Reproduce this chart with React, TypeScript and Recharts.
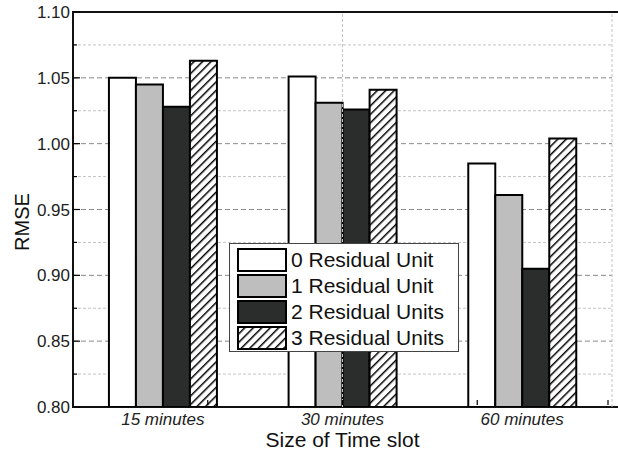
import {
  BarChart,
  Bar,
  XAxis,
  YAxis,
  CartesianGrid,
  ReferenceLine,
  ReferenceArea,
} from 'recharts'

const CATEGORIES = ['15 minutes', '30 minutes', '60 minutes']
const UNIT0 = [1.05, 1.051, 0.985]
const UNIT1 = [1.045, 1.031, 0.961]
const UNIT2 = [1.028, 1.026, 0.905]
const UNIT3 = [1.063, 1.041, 1.004]
const SERIES_NAMES = ['0 Residual Unit', '1 Residual Unit', '2 Residual Units', '3 Residual Units']
const Y_TICKS = [0.8, 0.825, 0.85, 0.875, 0.9, 0.925, 0.95, 0.975, 1.0, 1.025, 1.05, 1.075, 1.1]
const MAJOR_GRID = [0.85, 0.9, 0.95, 1.0, 1.05]
const MINOR_GRID = [0.825, 0.875, 0.925, 0.975, 1.025, 1.075]
const SLOT_BOUNDS = [1, 2]
const X_TICKS = [0.5, 1, 1.5, 2, 2.5]

const data = CATEGORIES.map((c, i) => ({
  name: c,
  u0: UNIT0[i],
  u1: UNIT1[i],
  u2: UNIT2[i],
  u3: UNIT3[i],
}))

const FONT = '"Liberation Sans", Arial, sans-serif'
const FILLS = ['#ffffff', '#bebebe', '#2b2d2c', 'url(#hatch)']

const Hatch = ({ id }: { id: string }) => (
  <pattern id={id} patternUnits="userSpaceOnUse" width="6" height="6" patternTransform="rotate(45)">
    <rect width="6" height="6" fill="#fff" />
    <line x1="0" y1="0" x2="0" y2="6" stroke="#000" strokeWidth="3" />
  </pattern>
)

const LeftTick = (props: any) => {
  const { x, y, payload, index } = props
  const major = index % 2 === 0
  return (
    <g>
      <line x1={x} y1={y} x2={x + (major ? 7 : 4)} y2={y} stroke="#000" strokeWidth={1.2} />
      {major && (
        <text x={x - 3} y={y} dy={6} textAnchor="end" fontSize={17} fill="#222" fontFamily={FONT}>
          {Number(payload.value).toFixed(2)}
        </text>
      )}
    </g>
  )
}

const RightTick = (props: any) => {
  const { x, y, index } = props
  const major = index % 2 === 0
  return <line x1={x} y1={y} x2={x - (major ? 7 : 4)} y2={y} stroke="#000" strokeWidth={1.2} />
}

const BottomTick = (props: any) => {
  const { x, y } = props
  return <line x1={x} y1={y} x2={x} y2={y - 5} stroke="#000" strokeWidth={1.2} />
}

const TopTick = (props: any) => {
  const { x, y } = props
  return <line x1={x} y1={y} x2={x} y2={y + 4} stroke="#000" strokeWidth={1.2} />
}

const CatTick = (props: any) => {
  const { x, y, payload } = props
  return (
    <text x={x} y={y} dy={10} textAnchor="middle" fontSize={17} fontStyle="italic" fill="#222" fontFamily={FONT}>
      {payload.value}
    </text>
  )
}

const LegendBox = () => (
  <div
    style={{
      position: 'absolute',
      left: 229,
      top: 243,
      width: 230,
      height: 109,
      border: '1px solid #444',
      background: '#fff',
      padding: '3px 0 0 7px',
      boxSizing: 'border-box',
      fontFamily: FONT,
      fontSize: 21,
      color: '#111',
    }}
  >
    {SERIES_NAMES.map((n, i) => (
      <div key={n} style={{ display: 'flex', alignItems: 'center', height: 26 }}>
        <svg width={50} height={24} style={{ marginRight: 4, flexShrink: 0 }}>
          <defs>
            <Hatch id={`lhatch${i}`} />
          </defs>
          <rect
            x={1}
            y={1}
            width={48}
            height={22}
            fill={i === 3 ? `url(#lhatch${i})` : FILLS[i]}
            stroke="#000"
            strokeWidth={2}
          />
        </svg>
        <span style={{ whiteSpace: 'nowrap' }}>{n}</span>
      </div>
    ))}
  </div>
)

export default function App() {
  return (
    <div style={{ position: 'absolute', left: 0, top: 0, width: 618, height: 452, background: '#fff' }}>
      <BarChart
        width={618}
        height={452}
        data={data}
        margin={{ top: 12, right: 6, left: 0, bottom: 0 }}
        barCategoryGap="20%"
        barGap={0}
      >
        <defs>
          <Hatch id="hatch" />
        </defs>
        <CartesianGrid
          vertical={false}
          horizontalValues={MINOR_GRID}
          stroke="#c4c4c4"
          strokeDasharray="3 2"
        />
        <CartesianGrid
          vertical={false}
          horizontalValues={MAJOR_GRID}
          stroke="#8a8a8a"
          strokeDasharray="5 3"
        />
        {SLOT_BOUNDS.map((b) => (
          <ReferenceLine key={b} xAxisId="num" x={b} stroke="#c4c4c4" strokeDasharray="3 2" />
        ))}
        <XAxis
          dataKey="name"
          height={45}
          axisLine={false}
          tickLine={false}
          tick={<CatTick />}
          interval={0}
        />
        <XAxis
          xAxisId="num"
          type="number"
          domain={[0, 3]}
          ticks={X_TICKS}
          height={45}
          axisLine={false}
          tickLine={false}
          tickSize={0}
          tick={<BottomTick />}
          orientation="bottom"
          mirror
        />
        <XAxis
          xAxisId="top"
          type="number"
          domain={[0, 3]}
          ticks={X_TICKS}
          orientation="top"
          height={0}
          axisLine={false}
          tickLine={false}
          tickSize={0}
          tick={<TopTick />}
        />
        <YAxis
          domain={[0.8, 1.1]}
          ticks={Y_TICKS}
          width={73}
          axisLine={false}
          tickLine={false}
          tickSize={0}
          tickMargin={0}
          tick={<LeftTick />}
          interval={0}
          allowDataOverflow
        />
        <YAxis
          yAxisId="right"
          orientation="right"
          domain={[0.8, 1.1]}
          ticks={Y_TICKS}
          width={0}
          axisLine={false}
          tickLine={false}
          tickSize={0}
          tickMargin={0}
          tick={<RightTick />}
          interval={0}
        />
        <Bar dataKey="u0" name={SERIES_NAMES[0]} fill={FILLS[0]} stroke="#000" strokeWidth={2} isAnimationActive={false} />
        <Bar dataKey="u1" name={SERIES_NAMES[1]} fill={FILLS[1]} stroke="#000" strokeWidth={2} isAnimationActive={false} />
        <Bar dataKey="u2" name={SERIES_NAMES[2]} fill={FILLS[2]} stroke="#000" strokeWidth={2} isAnimationActive={false} />
        <Bar dataKey="u3" name={SERIES_NAMES[3]} fill={FILLS[3]} stroke="#000" strokeWidth={2} isAnimationActive={false} />
        <ReferenceArea
          xAxisId="num"
          x1={0}
          x2={3}
          y1={0.8}
          y2={1.1}
          fill="none"
          stroke="#111"
          strokeWidth={2}
          ifOverflow="visible"
        />
      </BarChart>
      <LegendBox />
      <div
        style={{
          position: 'absolute',
          left: 22,
          top: 222,
          transform: 'translate(-50%, -50%) rotate(-90deg)',
          fontFamily: FONT,
          fontSize: 20,
          color: '#111',
          whiteSpace: 'nowrap',
        }}
      >
        RMSE
      </div>
      <div
        style={{
          position: 'absolute',
          left: 73,
          width: 539,
          top: 428,
          textAlign: 'center',
          fontFamily: FONT,
          fontSize: 21,
          color: '#111',
        }}
      >
        Size of Time slot
      </div>
    </div>
  )
}
